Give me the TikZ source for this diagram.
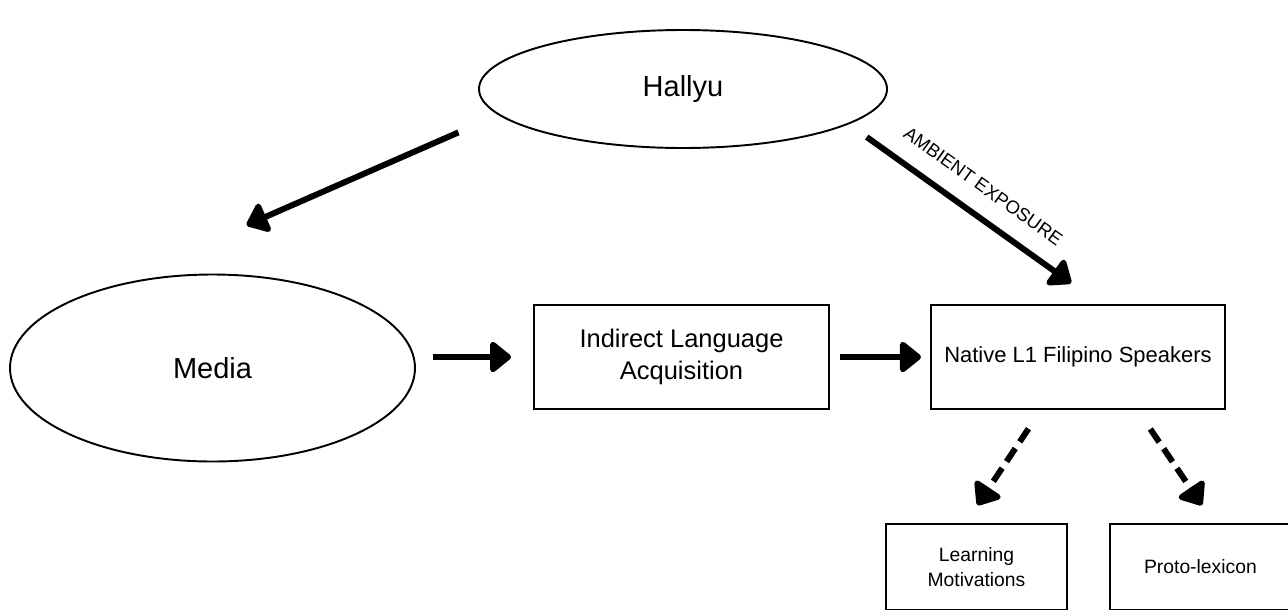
\documentclass[tikz,border=0pt]{standalone}
\usepackage{fontspec}
\setmainfont{Liberation Sans}
\usepackage{xcolor}
\usepackage{tikz}
\usetikzlibrary{arrows.meta, positioning, calc, shapes.geometric}
\tikzset{
  hbubble/.style={ellipse, draw=black, line width=1.1pt, inner sep=0pt, align=center, font=\fontsize{16.5}{20}\selectfont},
  hbox/.style={rectangle, draw=black, line width=1.1pt, inner sep=0pt, align=center, minimum width=5.88cm, minimum height=2.08cm},
  hsmall/.style={hbox, minimum width=3.62cm, minimum height=1.72cm, font=\fontsize{11}{14}\selectfont},
  hflow/.style={-{Triangle[length=13pt, width=20pt, round]}, line width=3.4pt},
  hflowD/.style={hflow, dash pattern=on 9pt off 4.5pt},
  hlbl/.style={font=\fontsize{10.5}{12}\selectfont, sloped, above=7pt},
}

\begin{document}
\begin{tikzpicture}
    \useasboundingbox (0,0) rectangle (25.76,-12.18);
    \node[hbubble, minimum width=8.16cm, minimum height=2.36cm] (hallyu) at (13.66,-1.78) {Hallyu};
    \node[hbubble, minimum width=8.1cm, minimum height=3.74cm] (media) at (4.25,-7.36) {Media};
    \node[hbox, minimum width=5.9cm, font=\fontsize{14.5}{18.5}\selectfont] (ila) at (13.63,-7.14) {Indirect Language\\Acquisition};
    \node[hbox, right=2cm of ila, font=\fontsize{12.5}{15}\selectfont] (native) {Native L1 Filipino Speakers};
    \node[hsmall] (learn) at (19.53,-11.34) {Learning\\Motivations};
    \node[hsmall, right=0.82cm of learn] (proto) {Proto-lexicon};
    \draw[hflow, shorten <=0.87cm, shorten >=3.2cm] (hallyu.188.9) -- (media.145.3);
    \draw[hflow, shorten <=0.44cm, shorten >=0.72cm] (hallyu.348) -- node[hlbl, pos=0.47] {AMBIENT EXPOSURE} (native.67.1);
    \draw[hflow, shorten <=0.34cm, shorten >=0.44cm] (ila.west -| media.east) -- (ila.west);
    \draw[hflow, shorten <=0.2cm, shorten >=0.18cm] (ila.east) -- (native.west);
    \draw[hflowD, shorten <=0.45cm, shorten >=0.43cm] ([xshift=-0.74cm]native.south) -- ([xshift=-0.22cm]learn.north);
    \draw[hflowD, shorten <=0.46cm, shorten >=0.43cm] ([xshift=1.19cm]native.south) -- ([xshift=0.27cm]proto.north);
  \end{tikzpicture}
\end{document}
